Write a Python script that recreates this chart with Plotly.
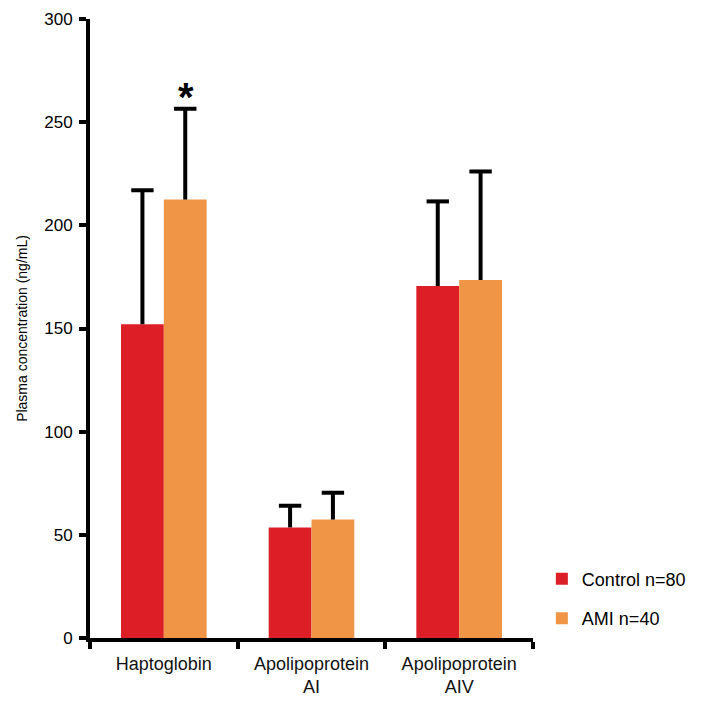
import plotly.graph_objects as go

categories = ["Haptoglobin", "Apolipoprotein<br>AI", "Apolipoprotein<br>AIV"]
control_mean = [152, 53.6, 170.6]
control_err = [65, 10.5, 41]
ami_mean = [212.5, 57.4, 173.5]
ami_err = [44, 13, 52.6]
y_ticks = [0, 50, 100, 150, 200, 250, 300]
series_names = ["Control n=80", "AMI n=40"]

RED = "#DC1F27"
ORANGE = "#F09446"
FONT = "Liberation Sans, Arial, sans-serif"

fig = go.Figure()
series = [
    (series_names[0], control_mean, control_err, RED, "c"),
    (series_names[1], ami_mean, ami_err, ORANGE, "a"),
]
for name, mean, err, color, grp in series:
    fig.add_trace(go.Bar(
        x=categories, y=mean, name=name, legendgroup=grp, offsetgroup=grp,
        marker=dict(color=color, line=dict(width=0)),
        error_y=dict(type="data", symmetric=False, array=err,
                     arrayminus=[0] * len(err), color="black",
                     thickness=4, width=0),
    ))
# caps on the upper ends of the error bars only
for name, mean, err, color, grp in series:
    fig.add_trace(go.Scatter(
        x=categories, y=[m + e for m, e in zip(mean, err)],
        mode="markers", offsetgroup=grp, showlegend=False, hoverinfo="skip",
        marker=dict(symbol="line-ew", size=16, color="black",
                    line=dict(color="black", width=4)),
    ))

# significance marker above the AMI Haptoglobin bar
fig.add_annotation(
    x=categories[0], y=ami_mean[0] + ami_err[0], xref="x", yref="y",
    text="<b>*</b>", showarrow=False, xshift=22, yshift=-12, yanchor="bottom",
    font=dict(family=FONT, size=40, color="black"),
)

fig.update_layout(
    width=697, height=698,
    margin=dict(l=82, r=172, t=11, b=68),
    paper_bgcolor="white", plot_bgcolor="white",
    barmode="group", bargap=0.42, bargroupgap=0,
    scattermode="group", scattergap=0.42,
    font=dict(family=FONT, color="black"),
    showlegend=True,
    legend=dict(
        x=1.02, y=0.125, xanchor="left", yanchor="top",
        font=dict(family=FONT, size=18, color="black"),
        tracegroupgap=13, traceorder="grouped",
        bgcolor="rgba(0,0,0,0)",
    ),
    xaxis=dict(
        type="category", showline=True, linecolor="black", linewidth=4,
        ticks="outside", tickson="boundaries", ticklen=7, tickwidth=4,
        tickcolor="black", showgrid=False, zeroline=False, automargin=False,
        tickfont=dict(family=FONT, size=18, color="#111111"),
        ticklabelstandoff=6,
    ),
    yaxis=dict(
        range=[0, 300], tickvals=y_ticks, showline=True, linecolor="black",
        linewidth=4, ticks="outside", ticklen=7, tickwidth=4,
        tickcolor="black", showgrid=False, zeroline=False, automargin=False,
        tickfont=dict(family=FONT, size=17, color="black"),
        ticklabelstandoff=3, ticklabeloverflow="allow",
        title=dict(text="Plasma concentration (ng/mL)", standoff=14,
                   font=dict(family=FONT, size=14, color="black")),
    ),
)

fig.write_html("out.html")
